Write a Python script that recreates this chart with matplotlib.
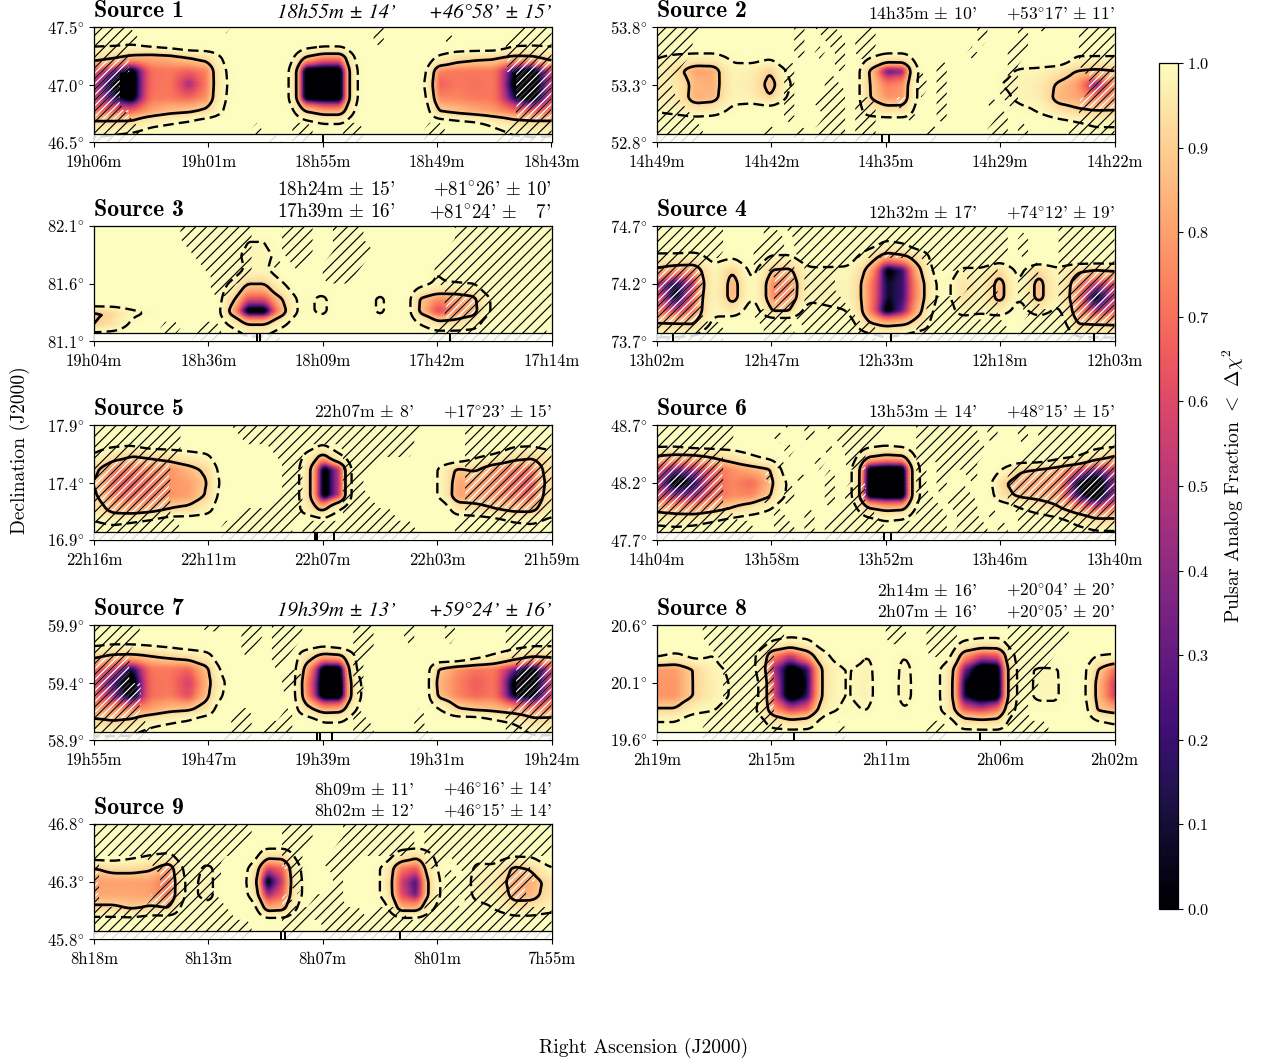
import matplotlib
matplotlib.use("Agg")
import matplotlib.pyplot as plt
import numpy as np

plt.rcParams['font.family'] = ['cmr10', 'DejaVu Sans']
plt.rcParams['mathtext.fontset'] = 'cm'
plt.rcParams['axes.formatter.use_mathtext'] = True
plt.rcParams['axes.unicode_minus'] = False
plt.rcParams['hatch.linewidth'] = 0.65

# source names and positions, RA limits in minutes of time
ra_start = [1146, 889, 1144, 782, 1336, 844, 1195, 139, 498]
ra_end = [1123, 862, 1034, 723, 1319, 820, 1164, 122, 475]
dec_low = [46.5, 52.8, 81.1, 73.7, 16.9, 47.7, 58.9, 19.6, 45.8]
ra_ticks = [["19h06m", "19h01m", "18h55m", "18h49m", "18h43m"],
            ["14h49m", "14h42m", "14h35m", "14h29m", "14h22m"],
            ["19h04m", "18h36m", "18h09m", "17h42m", "17h14m"],
            ["13h02m", "12h47m", "12h33m", "12h18m", "12h03m"],
            ["22h16m", "22h11m", "22h07m", "22h03m", "21h59m"],
            ["14h04m", "13h58m", "13h52m", "13h46m", "13h40m"],
            ["19h55m", "19h47m", "19h39m", "19h31m", "19h24m"],
            ["2h19m", "2h15m", "2h11m", "2h06m", "2h02m"],
            ["8h18m", "8h13m", "8h07m", "8h01m", "7h55m"]]
pulsar_ra = [[1134.5], [875.7, 875.3], [1104.8, 1104.1, 1058.3], [780, 751.8, 725.6],
             [1327.8, 1327.7, 1327.1], [832.1, 831.7], [1179.9, 1179.7, 1178.9],
             [133.9, 127], [488.6, 488.4, 482.6]]
ra_text = ["18h55m ± 14’", "14h35m ± 10'", "18h24m ± 15'\n17h39m ± 16'",
           "12h32m ± 17'", "22h07m ± 8'", "13h53m ± 14'",
           "19h39m ± 13’", "2h14m ± 16'\n2h07m ± 16'",
           "8h09m ± 11'\n8h02m ± 12'"]
dec_text = ["+46°58’ ± 15’", "+53°17' ± 11'",
            "+81°26' ± 10'\n+81°24' ±   7'", "+74°12' ± 19'",
            "+17°23' ± 15'", "+48°15' ± 15'",
            "+59°24’ ± 16’",
            "+20°04' ± 20'\n+20°05' ± 20'",
            "+46°16' ± 14'\n+46°15' ± 14'"]

# pulsar analog fraction in percent, rows top to bottom
source1 = [
    [100] * 25,
    [99.6,99.6,99.5,99.8,99.9, 100,100,100,100,100, 100,99.9,99.8,99.8,100, 100,100,100,100,100, 100,100,99.7,99.6,99.6],
    [95,93,88,85,87, 92,95,99.6,100,100, 99.9,92,80,80,99.8, 100,100,100,99,96, 94,93,89,90,95],
    [65,45,8,70,72, 68,75,99.2,100,100, 99.7,3,0,0,99.6, 100,100,99.9,75,72, 72,72,25,5,60],
    [55,20,0,70,72, 45,75,99,100,100, 99.7,3,0,0,99.6, 100,100,99.8,65,72, 70,72,15,0,55],
    [60,35,5,72,72, 68,78,99.2,100,100, 99.7,5,0,0,99.6, 100,100,99.9,75,75, 72,72,30,5,60],
    [70,70,72,82,88, 90,94,99.5,100,100, 99.9,93,85,85,99.8, 100,100,100,92,88, 84,80,74,72,72],
    [96,96,96,99,99.5, 99.8,100,100,100,100, 100,99.9,99.6,99.6,100, 100,100,100,100,99.9, 99.8,99,97,96,96],
    [99.5,99.7,99.9,100,100, 100,100,100,100,100, 100,100,100,100,100, 100,100,100,100,100, 100,99.9,99.6,99.5,99.6],
]
source2 = [
    [100] * 25,
    [99.9,100,100,100,100, 100,100,100,100,100, 100,100,100,100,100, 100,100,100,100,100, 100,100,100,100,100],
    [99.2,98.5,98,98,99.5, 99.7,99.5,100,100,100, 100,99.5,98,98,99.9, 100,100,100,100,100, 100,100,99,99,99],
    [98,93,80,82,98, 97,90,99.5,100,100, 100,92,30,40,99.8, 100,100,100,99.7,98.5, 98,96,90,88,90],
    [97,96,85,83,97.5, 96,82,98.8,100,100, 100,92,72,78,99.8, 100,100,100,99,97.5, 96.5,88,80,35,78],
    [98,96,83,85,98, 97,90,99.5,100,100, 100,92,78,80,99.8, 100,100,100,99.7,98, 97,85,82,75,78],
    [99,98.5,97,98,99.6, 99.9,99.9,100,100,100, 100,98,96,96,99.9, 100,100,100,100,99.7, 99,96,93,92,92],
    [100,100,100,100,100, 100,100,100,100,100, 100,100,100,100,100, 100,100,100,100,100, 100,99.9,99.7,99,99],
    [100] * 25,
]
source3 = [
    [100] * 25,
    [100,100,100,100,100, 100,100,100,99,99, 100,100,100,100,100, 100,100,100,100,100, 100,100,100,100,100],
    [100,100,100,100,100, 100,100,99.7,98.3,98.3, 99.6,100,100,100,100, 100,100,100,100,100, 100,100,100,100,100],
    [100,100,100,100,100, 100,100,99.9,98.5,98.5, 99.9,100,100,100,100, 100,100,100,98.9,100, 100,100,100,100,100],
    [100,100,100,100,100, 100,100,99,90,90, 99,100,100,100,100, 100,100,99.6,98.5,98.5, 99,100,100,100,100],
    [100,100,100,100,100, 100,100,96,65,65, 92,99.7,97.5,100,100, 97.5,100,90,78,80, 87,99.5,100,100,100],
    [88,91,98,99,100, 100,100,90,0,0, 85,99.7,97.5,100,100, 97.5,100,89,55,75, 85,99.5,100,100,100],
    [90,95,99.5,100,100, 100,100,99.3,93,93, 99,100,100,100,100, 100,100,99.5,96,96, 98,100,100,100,100],
    [100,100,100,100,100, 100,100,100,99.6,99.6, 100,100,100,100,100, 100,100,100,100,100, 100,100,100,100,100],
]
source4 = [
    [100] * 25,
    [100,100,100,100,100, 100,100,100,100,100, 100,99.9,99,99.5,100, 100,100,100,100,100, 100,100,100,100,100],
    [98.5,98.5,98,99.7,99.5, 99.9,99,99,99.9,99.9, 99.8,97,85,90,97, 100,100,100,99.9,100, 100,100,100,100,100],
    [88,80,80,98,90, 99.5,90,88,98.5,98.5, 98.5,88,15,35,93, 99.9,98.5,98.5,93,99.5, 93,98.5,93,90,92],
    [55,25,55,98,80, 99,75,75,98,97.5, 98,80,25,35,88, 99.7,94,97.5,82,99, 82,98,80,55,60],
    [65,15,70,98,80, 99,75,78,98,97.5, 98,80,25,35,88, 99.7,94,97.5,82,99, 82,98,75,10,55],
    [70,60,72,98.5,96, 99.8,90,90,99.8,99.5, 99,80,10,45,92, 99.9,97,98.5,97,99.7, 97,99.5,78,55,65],
    [93,93,92,99.6,100, 100,100,100,100,100, 99.8,94,90,92,97, 100,100,100,100,100, 100,99.9,92,92,91],
    [99.5,99.5,99.7,100,100, 100,100,100,100,100, 100,99.9,99.5,99.8,100, 100,100,100,100,100, 100,100,99.6,99.5,99.5],
]
source5 = [
    [100] * 25,
    [99.8,99.8,99.8,100,100, 100,100,100,100,100, 100,100,99.7,100,100, 100,100,100,100,100, 100,100,99.8,99.8,100],
    [99,96,92,94,96, 98,99,100,100,100, 100,99,88,99.3,100, 100,100,100,100,100, 99.6,99,96,94,97],
    [93,75,72,75,78, 86,93,99.9,100,100, 100,97,3,60,100, 100,100,100,99,88, 92,78,72,72,96],
    [90,68,65,72,78, 80,90,99.8,100,100, 100,97,0,60,100, 100,100,100,99,82, 82,76,70,62,95],
    [92,72,70,72,78, 80,92,99.9,100,100, 100,97,0,60,100, 100,100,100,99,80, 82,78,72,68,96],
    [96,86,82,86,92, 94,98,100,100,100, 100,98,88,99.5,100, 100,100,100,100,97, 95,92,88,88,97],
    [99.5,99,99.5,99.8,100, 100,100,100,100,100, 100,100,99.9,100,100, 100,100,100,100,100, 100,99.9,99.5,99.2,99.8],
    [100] * 25,
]
source6 = [
    [100] * 25,
    [99.9,99.9,100,100,100, 100,100,100,100,100, 100,99.9,99.8,99.9,100, 100,100,100,100,100, 100,100,100,99.9,99.9],
    [92,90,91,94,97, 99.2,99.8,100,100,100, 99.9,95,91,93,99.9, 100,100,100,100,100, 100,99.8,99.5,97,92],
    [62,45,55,68,78, 85,90,99.9,100,100, 99.7,15,3,5,99.7, 100,100,100,99.3,93, 90,85,70,45,62],
    [55,5,30,68,75, 68,85,99.5,100,100, 99.7,8,0,0,99.7, 100,100,99.9,93,80, 80,78,25,3,45],
    [62,50,50,68,76, 75,90,99.6,100,100, 99.7,10,0,0,99.7, 100,100,100,95,88, 85,78,35,5,50],
    [88,85,82,88,93, 97,99.3,100,100,100, 99.9,95,90,92,99.9, 100,100,100,100,99.5, 98,94,85,70,75],
    [99,98.5,99,99.6,99.9, 100,100,100,100,100, 100,99.9,99.6,99.8,100, 100,100,100,100,100, 100,99.9,99,96.5,96],
    [100,100,100,100,100, 100,100,100,100,100, 100,100,100,100,100, 100,100,100,100,100, 100,100,100,99.9,99.9],
]
source7 = [
    [100] * 25,
    [99.8,99.7,99.7,99.8,99.9, 100,100,100,100,100, 100,100,99.9,100,100, 100,100,100,100,100, 100,100,99.9,99.8,99.8],
    [94,90,90,92,94, 96,98.5,100,100,100, 100,97,88,91,99.7, 100,100,100,100,100, 99.8,99,97,94,94],
    [70,60,25,72,72, 68,88,99.8,100,100, 100,88,5,5,99.7, 100,100,100,90,78, 72,72,45,10,60],
    [65,35,3,70,72, 55,85,99.3,100,100, 100,80,0,0,99, 100,100,100,85,75, 65,72,15,5,60],
    [68,50,10,70,73, 60,88,99.6,100,100, 100,82,0,0,99, 100,100,100,88,75, 68,72,20,15,62],
    [80,80,78,82,88, 90,96,100,100,100, 100,96,85,87,99.6, 100,100,100,99.5,93, 90,88,84,78,80],
    [95,93,95,98.5,99.3, 99.7,100,100,100,100, 100,100,99.5,99.5,100, 100,100,100,100,100, 100,99.8,99.3,96,96],
    [99.5,99.5,99.5,99.9,100, 100,100,100,100,100, 100,100,100,100,100, 100,100,100,100,100, 100,100,99.9,99.5,99.5],
]
source8 = [
    [100] * 25,
    [100,100,100,100,100, 100,99.3,98,99,100, 100,100,100,100,100, 100,99.3,98.5,98.5,100, 100,100,100,100,100],
    [99.5,98.7,99.7,99,100, 99.5,80,60,85,99, 100,99,99.9,99,100, 99.9,85,65,70,99.7, 99.9,100,100,99.3,99],
    [80,80,91,98,99.5, 99.5,55,10,35,96, 99.2,97.5,99.9,97.5,99.9, 98.5,50,3,10,99.5, 98.8,98.8,99.9,92,70],
    [78,78,91,97,99.3, 99.8,65,0,30,96, 99.2,97,99.9,97,99.9, 98.5,30,0,3,99.5, 98.7,98.7,99.9,88,55],
    [78,78,91,97,99.3, 99.8,65,0,35,96, 99.2,97,99.9,97,99.9, 98.5,30,0,5,99.5, 98.7,98.7,99.9,88,55],
    [92,92,98,99,99.8, 99.5,82,60,70,98, 99.6,98.8,100,99,100, 98.5,70,60,75,99.6, 99.5,99.5,100,90,85],
    [99.5,99.5,100,100,100, 100,98,96,97,100, 100,100,100,100,100, 100,97,96,96,100, 100,100,100,99.7,99.2],
    [100] * 25,
]
source9 = [
    [100] * 25,
    [100] * 25,
    [99.9,99.9,99.7,99.3,99, 100,100,100,100,96, 96,99.9,100,100,100, 100,98,95,99.5,100, 99.7,99.8,99.6,99.6,100],
    [90,94,94,92,78, 99.8,97.5,100,99.3,60, 70,99.5,100,100,100, 99,75,65,99,100, 98.5,98.5,87,92,99],
    [80,80,80,80,68, 99.6,97,100,99,3, 60,99.3,100,100,100, 99,60,30,98,100, 97,96,82,83,94],
    [82,82,82,80,70, 99.6,97,100,99.3,45, 70,99.3,100,100,100, 99,65,35,98,100, 98,98,84,85,95],
    [93,93,90,93,92, 99.9,99.8,100,100,85, 88,99.8,100,100,100, 99.9,86,86,99.5,100, 99.7,99,96,96,98],
    [99.9,99.9,99.9,100,100, 100,100,100,100,99.9, 99.9,100,100,100,100, 100,99.9,99.9,100,100, 100,100,99.9,99.9,100],
    [100] * 25,
]

# where the second test is hatched, rows top to bottom
hatch1 = ["####...... ...#...... ........#. .......... ..####",
          "#####..... .......... ........#. .....#.... .#####",
          "####...... .......... .......... .......... .#####",
          "####...... .......... .......... .......... .#####",
          "###....... .......... .......... .......... ..####",
          "###....... .......... .......... .......... ..####",
          "###....... .......... .......... .......... ..####",
          "####...... .......... .......... .......... ..####",
          "#####..... ......#... ##...##... ...##..... .#####",
          "#####..... .......##. ##...##... ...##..... ######"]
hatch2 = ["#####..... ....#.##.. .#........ ..#...#.#. ..####",
          "####...... ....#..##. ##........ ..#...#... ..####",
          "####...... ....#.#.#. ##........ .#...##... ..####",
          "###....... ...#....#. ........#. .....#.... ..####",
          "##........ ...#...#.. ......#.#. .....#.... ...###",
          "##........ ...#...##. ......#.#. ....##.... ...###",
          "###....... ...#..###. ##..#...#. ...#.#.... ..####",
          "####...... ...#...##. ##...#..#. ....#..... ..####",
          "#####..... .#..#.###. ##.....#.. ...##.#... .#####",
          "#####..... .#..#.###. ##.....#.. ...##.#... .#####"]
hatch3 = [".........# ######...# ##..###... ......#### ######",
          ".........# ######...# ##..###... ......#### ######",
          ".......... ######...# ##..####.. .....##### ######",
          ".......... .#####..#. #..####... ....###### ######",
          ".......... ..####.... ...###.... ....###### ######",
          ".......... ..##...... .......... .....##### ######",
          ".......... .......... .......... .....##### ######",
          ".......... .......... .......... .....##### ######",
          ".......##. .##....... .......... ....###### #####.",
          ".......... ###....##. .......... ...####### #####."]
hatch4 = ["#######... .#.####### ########## #####..... ######",
          "#######... .##.###### ########## #####.#... ######",
          "#######... ###.###### ########## #####.#... ######",
          "#####..... ####.####. .......### ####...#.. ######",
          "#####..... ..##.###.. .......... .###..##.. ######",
          "#####..... ..##.###.. .......... .###..#... ######",
          "#####..... ..##.####. .......### ####..##.. ######",
          "#####..... ###.###### .......### ##.#...### ######",
          "#######... .###.##### ##....#### #####.#### ######",
          "#######... .###.##### ##....#### #####.#### ######"]
hatch5 = ["#########. ....###### ########## ###....### ######",
          "#########. .....##### ########## ##.....### ######",
          "#########. ........## #....##### ##.....### ######",
          "########.. .........# #....###.. .......### ######",
          "########.. .........# #....##... .......### ######",
          "########.. .........# #....##... .......### ######",
          "########.. ........## #....###.. .......### ######",
          "########.. .....##### #....##### .......### ######",
          "#########. ...####### .######### ##....#### ######",
          "#########. ...####### .######### ###...#### ######"]
hatch6 = ["########.. ...#.#.#.# ###...#### ##.#..#.## ######",
          "########.. ..#..#..## ##....#### ##.#..#.## ######",
          "#######... ...#...#.# #.....#### ###....### ######",
          "#######... ..#...#..# #.....#.## ##....#### ######",
          "#######... .#..#..#.. ......#.#. .#...##### ######",
          "#######... ...#...#.# #.....#.#. #....##### ######",
          "#######... .#.#...#.# #.....##.# ##...##### ######",
          "########.. ..#..#..## ##....###. ##.#..#### ######",
          "########## ..##.#.### ###.#####. ###.#.#### ######",
          "########## ..##.#.### ###.###### ###.#.#### ######"]
hatch7 = ["#####..... .##..##.## #.....##.. .#...#.... .#####",
          "#####..... .....##.## #.....##.. .#...#.... .#####",
          "####...... .....#..## ......##.. .......... .#####",
          "####...... ........#. ......#... .......... ..####",
          "####...... .........# #.....#... .......... ..####",
          "#####..... .........# ......#... .......... ..####",
          "#####..... .......... .......... .......... ..####",
          "#####..... ....##...# ......#... ..#....... .#####",
          "######.... ....##.### ......##.. ..#....... .#####",
          "######.... ...###.### ......##.. ..##...... .#####"]
hatch8 = [".....##### ###....... ...##..### .....##### #.....",
          ".....##### ###....... ...##..### .....##### #.....",
          "......#### ##........ .......##. .....##### ......",
          ".......### ##........ .......... .....####. ......",
          ".......### ##........ .......... .....###.. ......",
          ".......### ##........ .......... .....###.. ......",
          ".......### ##........ .......... .....##... ......",
          "......#### ##........ .......... .....##... ......",
          ".....##### ###.....#. .......##. .....####. ......",
          ".....##### ###.....#. .......##. .....####. ......"]
hatch9 = ["########## ######...# ##...##### ##.####### ######",
          "########## ######...# ##...##### ##.####### ######",
          "########## #####....# #...###### ##.####### ######",
          "#.....#### ###......# #..###.... ...##.#### ###...",
          "#......### ###....... #...#..... .....#.### ####..",
          "#......### ##........ #...#..... .....##### ###...",
          "#.....#### ###......# ..###..... ...###.### ###...",
          "########## ####.....# #######.## #..####### ######",
          "########## ######...# #..####### ########## ######",
          "########## ######...# #..####### ########## ######"]

sources = [source1, source2, source3, source4, source5, source6, source7, source8, source9]
hatches = [hatch1, hatch2, hatch3, hatch4, hatch5, hatch6, hatch7, hatch8, hatch9]

W, H = 1264, 1064
DPI = 130
FINE = 10
fig = plt.figure(figsize=(W / DPI, H / DPI), dpi=DPI)

lefts = [94, 657]
tops = [27, 226, 425, 625, 824]
big_text = [0, 2, 6]
italic_text = [0, 6]


def box(a, n, axis):
    pad = [(0, 0), (0, 0)]
    pad[axis] = (n // 2, n // 2)
    b = np.pad(a, pad, mode='edge')
    return np.apply_along_axis(lambda s: np.convolve(s, np.ones(n) / n, mode='valid'), axis, b)


def fine_field(vals):
    # the profile is close to straight in log10(1 - f), so smooth it there
    u = np.log10(np.clip(1 - np.array(vals, dtype=float) / 100, 3e-4, 1))
    ny, nx = u.shape
    xi = np.linspace(0, nx - 1, (nx - 1) * FINE + 1)
    yi = np.linspace(0, ny - 1, (ny - 1) * FINE + 1)
    a = np.array([np.interp(xi, np.arange(nx), r) for r in u])
    a = np.array([np.interp(yi, np.arange(ny), c) for c in a.T]).T
    a = box(box(a, 5, 0), 5, 1)
    # the smoothing lifts the dark floors, put them back
    return np.where(a > -0.4, np.minimum(0, a + 0.15 * (a + 0.4) / 0.4), a)


def mathify(s):
    return s.replace("±", "$\\pm$").replace("°", "$^{\\circ}$")


for n in range(9):
    left = lefts[n % 2]
    top = tops[n // 2]
    ax = fig.add_axes([left / W, 1 - (top + 115) / H, 457.5 / W, 115 / H])
    ra0, ra1 = ra_start[n], ra_end[n]
    d0, d1 = dec_low[n], dec_low[n] + 1.0

    u_fine = fine_field(sources[n])
    fy, fx = u_fine.shape
    ra = np.linspace(ra0, ra1, fx)
    dec = np.linspace(d1, d0, fy)
    ax.pcolormesh(ra, dec, 1 - 10 ** u_fine, shading='gouraud', cmap='magma', vmin=0, vmax=1, zorder=1)

    rows = [r.replace(" ", "") for r in hatches[n]]
    mask = np.array([[c == '#' for c in r] for r in rows], dtype=float)
    my, mx = mask.shape
    near = mask[np.round(np.linspace(0, my - 1, fy)).astype(int)][:, np.round(np.linspace(0, mx - 1, fx)).astype(int)]
    with plt.rc_context({'hatch.color': 'white'}):
        ax.contourf(ra, dec, np.where(near > 0.5, u_fine + 1, -1), levels=[0, 10],
                    colors='none', hatches=['////////'], zorder=1.5)
    ax.contourf(np.linspace(ra0, ra1, mx), np.linspace(d1, d0, my), mask, levels=[0.5, 1.5],
                colors='none', hatches=['////'], zorder=2)

    ax.contour(ra, dec, u_fine, levels=[-2], colors='k', linewidths=1.3,
               linestyles=[(0, (4.5, 2.2))], zorder=3)
    ax.contour(ra, dec, u_fine, levels=[-1], colors='k', linewidths=1.5,
               linestyles='solid', zorder=3)

    # strip along the bottom that holds the pulsar marks
    strip = d0 + 0.07
    ax.axhspan(d0, strip, color='white', alpha=0.85, lw=0, zorder=4)
    ax.axhline(strip, color='k', lw=0.7, zorder=4.5)
    for s in ax.spines.values():
        s.set_linewidth(0.7)
        s.set_zorder(3.5)
    ax.vlines(pulsar_ra[n], d0, strip, color='k', lw=1.1, zorder=5)

    ax.set_xlim(ra0, ra1)
    ax.set_ylim(d0, d1)
    ax.set_xticks(np.linspace(ra0, ra1, 5))
    ax.set_xticklabels(ra_ticks[n])
    ax.set_yticks([d0, d0 + 0.5, d1])
    ax.set_yticklabels([f"{v:.1f}" + r"$^{\circ}$" for v in (d0, d0 + 0.5, d1)])
    ax.tick_params(labelsize=9.2, length=2.5, width=0.6)
    ax.tick_params(axis='x', pad=4.5)
    ax.tick_params(axis='y', pad=3)

    ax.text(0, 1.04, f"Source {n + 1}", transform=ax.transAxes, family='cmb10',
            fontsize=13.2, ha='left', va='bottom')
    ra_pos = 0.66 if n in big_text else 0.70
    if n in italic_text:
        for x, s in ((ra_pos, ra_text[n]), (1.0, dec_text[n])):
            ax.text(x, 1.04, s, transform=ax.transAxes, fontsize=11.5, family='STIXGeneral',
                    style='italic', ha='right', va='bottom')
    else:
        ra_size = 10.7 if n in big_text else 9.8
        dec_size = 10.5 if n in big_text else 9.6
        ax.text(ra_pos, 1.04, mathify(ra_text[n]), transform=ax.transAxes, fontsize=ra_size,
                ha='right', va='bottom', multialignment='right', linespacing=1.3)
        ax.text(1.0, 1.04, mathify(dec_text[n]), transform=ax.transAxes, fontsize=dec_size,
                ha='right', va='bottom', multialignment='right', linespacing=1.3)

cax = fig.add_axes([1159 / W, 1 - 909 / H, 19 / W, 846 / H])
sm = plt.cm.ScalarMappable(cmap='magma', norm=plt.Normalize(0, 1))
cb = fig.colorbar(sm, cax=cax)
cb.set_ticks(np.arange(0, 1.01, 0.1))
cb.ax.tick_params(labelsize=9.0, length=2.5, width=0.6, pad=2.5)
cb.outline.set_linewidth(0.7)

fig.text(1233 / W, 1 - 486 / H, r"Pulsar Analog Fraction $<$ $\Delta\chi^2$", rotation=90,
         fontsize=10.9, ha='center', va='center')
fig.text(20 / W, 1 - 450 / H, "Declination (J2000)", rotation=90, fontsize=10.8, ha='center', va='center')
fig.text(644 / W, 1 - 1048 / H, "Right Ascension (J2000)", fontsize=10.8, ha='center', va='center')

fig.savefig("out.png", dpi=DPI)
